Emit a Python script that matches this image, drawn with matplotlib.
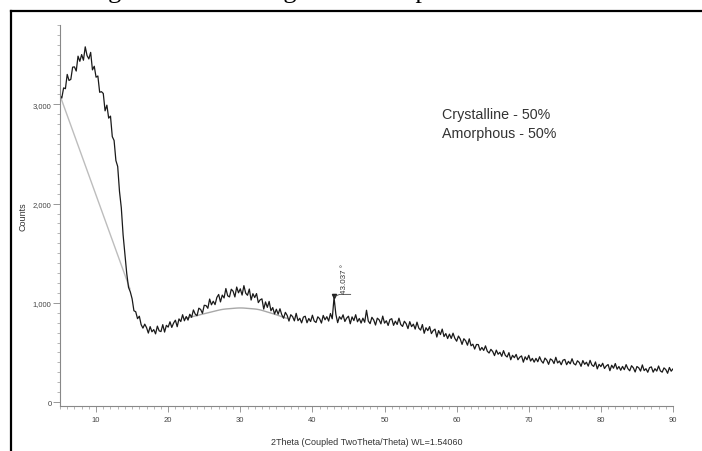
import numpy as np
import matplotlib
matplotlib.use("Agg")
import matplotlib.pyplot as plt
from matplotlib.lines import Line2D

# ---- data, 2theta step 0.25 deg ----
two_theta_start = 5.0
two_theta_step = 0.25
counts_05_15 = [3090, 3064, 3166, 3158, 3302, 3241, 3252, 3375, 3378, 3336, 3486, 3434,
                3502, 3445, 3580, 3492, 3458, 3524, 3348, 3384, 3274, 3286, 3122, 3128,
                3110, 2935, 2992, 2861, 2882, 2675, 2636, 2434, 2374, 2122, 1958, 1684,
                1486, 1298, 1156, 1110]
counts_15_25 = [1040, 920, 910, 840, 865, 780, 745, 785, 750, 695, 760, 708,
                730, 687, 765, 717, 710, 780, 705, 773, 755, 809, 752, 796,
                825, 759, 838, 811, 880, 819, 862, 826, 885, 854, 928, 886,
                870, 946, 933, 894]
counts_25_35 = [975, 972, 945, 1038, 980, 1016, 982, 1054, 1084, 1009, 1078, 1049,
                1144, 1071, 1059, 1137, 1117, 1059, 1159, 1101, 1141, 1078, 1173, 1097,
                1076, 1139, 1028, 1092, 1053, 1093, 1002, 1030, 1040, 937, 1009, 954,
                1014, 920, 952, 888]
counts_35_45 = [935, 885, 940, 880, 845, 904, 873, 816, 880, 861, 818, 894,
                820, 844, 798, 856, 865, 799, 842, 811, 875, 816, 802, 859,
                840, 796, 873, 829, 860, 816, 892, 839, 1055, 885, 800, 860,
                835, 879, 812, 846]
counts_45_55 = [865, 789, 858, 821, 880, 809, 842, 796, 845, 804, 925, 816,
                790, 854, 827, 776, 845, 829, 788, 866, 795, 819, 772, 831,
                840, 773, 815, 782, 845, 781, 762, 814, 790, 740, 810, 760,
                785, 735, 805, 745]
counts_55_65 = [725, 781, 693, 749, 720, 760, 690, 720, 735, 655, 720, 680,
                735, 660, 690, 640, 684, 641, 694, 642, 613, 665, 635, 581,
                638, 617, 573, 637, 567, 583, 534, 580, 579, 521, 550, 520,
                566, 512, 494, 531]
counts_65_75 = [509, 468, 523, 482, 501, 461, 518, 470, 454, 498, 426, 471,
                447, 480, 426, 452, 465, 402, 456, 426, 471, 413, 440, 402,
                440, 406, 456, 414, 392, 443, 422, 380, 435, 422, 388, 451,
                394, 413, 376, 422]
counts_75_90 = [429, 376, 410, 385, 436, 387, 374, 416, 399, 360, 418, 380,
                401, 362, 420, 374, 359, 404, 334, 380, 357, 391, 338, 364,
                378, 316, 371, 341, 388, 331, 358, 320, 359, 326, 377, 336,
                315, 366, 345, 303, 358, 345, 312, 374, 317, 336, 300, 347,
                354, 301, 336, 312, 363, 314, 301, 344, 327, 290, 348, 311,
                334]

# background (grey) lines
bg_line_x = [5.0, 14.7]
bg_line_y = [3090, 1140]
hump_x = [22.5, 25.0, 27.5, 30.0, 32.5, 35.0, 36.5]
hump_y = [845, 890, 935, 950, 935, 880, 840]

peak_pos = 43.037
peak_top = 1065
peak_label = "43.037 °"
xticks = [10, 20, 30, 40, 50, 60, 70, 80, 90]
yticks = [0, 1000, 2000, 3000]
ytick_labels = ["0", "1,000", "2,000", "3,000"]
note_text = "Crystalline - 50%\nAmorphous - 50%"
caption = "Figure 2: XRD diagram of sample"

counts = (counts_05_15 + counts_15_25 + counts_25_35 + counts_35_45 +
          counts_45_55 + counts_55_65 + counts_65_75 + counts_75_90)
two_theta = two_theta_start + two_theta_step * np.arange(len(counts))

# ---- figure ----
W, H = 702, 452
fig = plt.figure(figsize=(W / 100, H / 100), dpi=100)
plt.rcParams['font.family'] = ['Liberation Sans', 'DejaVu Sans']

x0, x1 = 60, 673
ytop, ybot = 26, 407
ax = fig.add_axes([x0 / W, 1 - ybot / H, (x1 - x0) / W, (ybot - ytop) / H])
ax.set_xlim(5, 90)
ax.set_ylim(-40, 3800)

ax.plot(bg_line_x, bg_line_y, color='#bdbdbd', lw=1.0, zorder=1)
# smooth hump through read points
hx = np.linspace(hump_x[0], hump_x[-1], 100)
hy = np.interp(hx, hump_x, hump_y)
k = np.ones(9) / 9
hy_s = np.convolve(np.pad(hy, 4, mode='edge'), k, mode='valid')
ax.plot(hx, hy_s, color='#a8a8a8', lw=1.0, zorder=1)

ax.plot(two_theta, counts, color='#1a1a1a', lw=0.9, zorder=2)

# peak annotation
ax.plot([peak_pos], [peak_top], marker='v', color='#222222', ms=3, zorder=3)
ax.plot([peak_pos, 43.8, 45.3], [peak_top, 1085, 1085], color='#444444', lw=0.6, zorder=3)
ax.text(44.4, 1095, peak_label, rotation=90, ha='center', va='bottom',
        fontsize=5.8, color='#333333')

ax.text(58.0, 2975, note_text, ha='left', va='top', fontsize=10.3,
        color='#333333', linespacing=1.45)

# axes styling
for s in ['top', 'right']:
    ax.spines[s].set_visible(False)
for s in ['left', 'bottom']:
    ax.spines[s].set_color('#888888')
    ax.spines[s].set_linewidth(0.8)
ax.set_xticks(xticks)
ax.set_xticks(np.arange(5, 91, 1), minor=True)
ax.set_yticks(yticks)
ax.set_yticklabels(ytick_labels)
ax.set_yticks(np.arange(0, 3801, 100), minor=True)
ax.tick_params(axis='both', which='major', labelsize=5.5, labelcolor='#444444',
               color='#888888', length=4, width=0.6, direction='out')
ax.tick_params(axis='both', which='minor', color='#999999', length=2, width=0.5,
               direction='out')
ax.tick_params(axis='y', which='major', length=5, pad=1)
ax.tick_params(axis='x', which='major', pad=3)

ax.set_xlabel("2Theta (Coupled TwoTheta/Theta) WL=1.54060", fontsize=6.5,
              color='#333333', labelpad=10)
ax.set_ylabel("Counts", fontsize=6.5, color='#333333', labelpad=4)

# frame lines of the document
fig.add_artist(Line2D([11 / W, 1.0], [1 - 12 / H, 1 - 12 / H], color='black', lw=1.6))
fig.add_artist(Line2D([11 / W, 11 / W], [1 - 12 / H, 0.0], color='black', lw=1.6))

# caption cut off at top (only descenders visible, as in the reference)
fig.text(86 / W, 1 + 1.5 / H, caption, ha='left', va='baseline', fontsize=19,
         family=['Liberation Serif', 'DejaVu Serif'], color='black')

fig.savefig("out.png", dpi=100)
